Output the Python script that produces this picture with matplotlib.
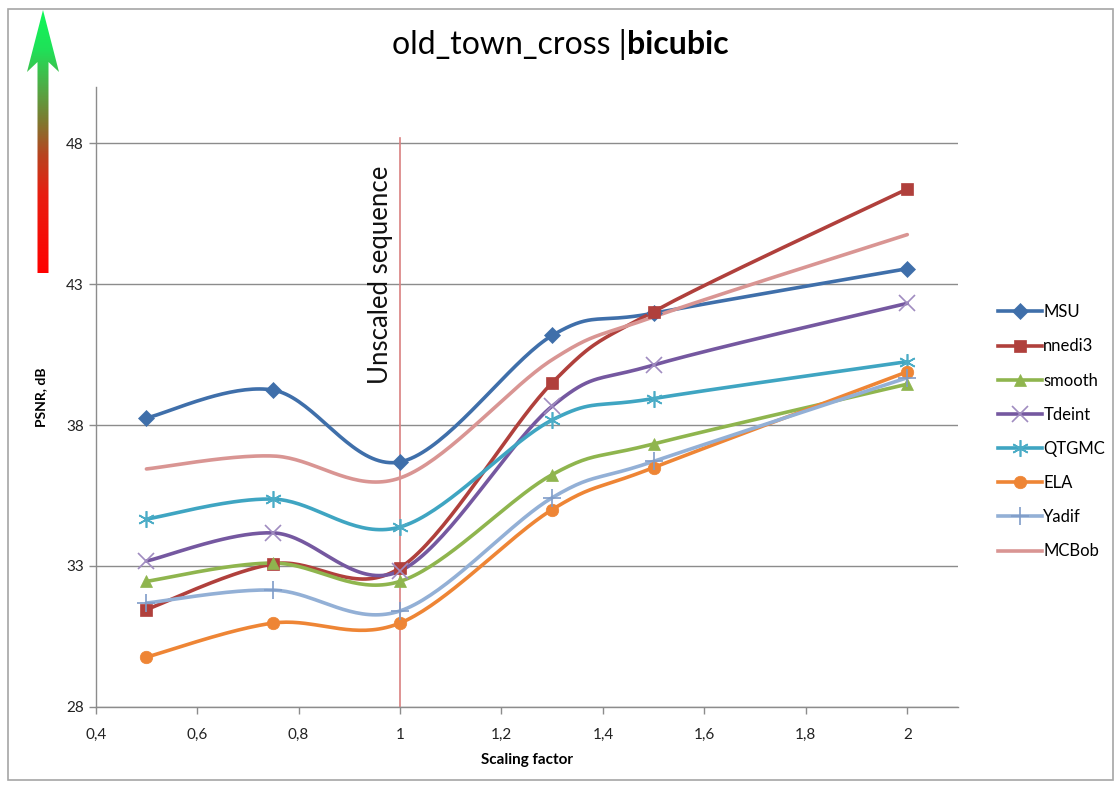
import numpy as np
import matplotlib
matplotlib.use("Agg")
import matplotlib.pyplot as plt
from matplotlib.colors import LinearSegmentedColormap
from matplotlib.patches import Polygon, Rectangle
from matplotlib.ticker import FuncFormatter

plt.rcParams['font.family'] = ['Lato', 'DejaVu Sans']

scale = [0.5, 0.75, 1.0, 1.3, 1.5, 2.0]
series_names = ['MSU', 'nnedi3', 'smooth', 'Tdeint', 'QTGMC', 'ELA', 'Yadif', 'MCBob']
msu = [38.25, 39.24, 36.69, 41.18, 41.97, 43.55]
nnedi3 = [31.45, 33.07, 32.93, 39.5, 42.03, 46.38]
smooth_v = [32.45, 33.1, 32.45, 36.24, 37.33, 39.45]
tdeint = [33.17, 34.17, 32.82, 38.67, 40.13, 42.32]
qtgmc = [34.66, 35.37, 34.38, 38.18, 38.94, 40.25]
ela = [29.76, 30.97, 30.97, 35.0, 36.49, 39.89]
yadif = [31.68, 32.14, 31.4, 35.42, 36.71, 39.68]
mcbob = [36.44, 36.9, 36.12, 40.32, 41.84, 44.76]

colors = ['#3F6FAA', '#B0403C', '#8FB54E', '#7558A0', '#3FA5C2', '#EE8535', '#93B0D6', '#D99593']
marker_colors = ['#3F6FAA', '#B0403C', '#8FB54E', '#A08CC0', '#4BACC6', '#EE8535', '#7F9CC8', '#D99593']
markers = ['D', 's', '^', 'x', (6, 2, 0), 'o', '+', None]
msizes = [8, 9, 9, 11, 12, 9, 13, 0]
values = [msu, nnedi3, smooth_v, tdeint, qtgmc, ela, yadif, mcbob]


def smooth_curve(xs, ys, n=40):
    # Excel-like smoothed line: cubic bezier through the points (catmull-rom style)
    p = np.column_stack([xs, ys]).astype(float)
    out = []
    for i in range(len(p) - 1):
        p0 = p[i - 1] if i > 0 else p[i]
        p1, p2 = p[i], p[i + 1]
        p3 = p[i + 2] if i + 2 < len(p) else p[i + 1]
        c1 = p1 + (p2 - p0) / 6
        c2 = p2 - (p3 - p1) / 6
        t = np.linspace(0, 1, n)[:, None]
        seg = (1 - t) ** 3 * p1 + 3 * (1 - t) ** 2 * t * c1 + 3 * (1 - t) * t ** 2 * c2 + t ** 3 * p2
        out.append(seg if i == 0 else seg[1:])
    out = np.vstack(out)
    return out[:, 0], out[:, 1]


W, H = 1116, 787
fig = plt.figure(figsize=(W / 100, H / 100), dpi=100)

# background layer in pixel coordinates (frame + gradient arrow)
bg = fig.add_axes([0, 0, 1, 1], zorder=-1)
bg.set_xlim(0, W)
bg.set_ylim(H, 0)
bg.axis('off')
bg.add_patch(Rectangle((8, 9), 1105, 771, fill=False, edgecolor='#A6A6A6', lw=1.2))
arrow_cmap = LinearSegmentedColormap.from_list('arr', [
    (0.0, '#FF0000'), (0.3, '#E81E10'), (0.45, '#B84420'), (0.58, '#7E7A30'),
    (0.72, '#4CB048'), (0.85, '#20E058'), (1.0, '#10F858')])
grad = np.linspace(1, 0, 256)[:, None]
img = bg.imshow(grad, cmap=arrow_cmap, extent=(26, 60, 274, 10), aspect='auto', zorder=1)
arrow_shape = Polygon([(43, 10), (59, 72), (48.5, 62), (48.5, 273), (37.5, 273),
                       (37.5, 62), (27, 72)], closed=True, transform=bg.transData,
                      facecolor='none', edgecolor='none')
bg.add_patch(arrow_shape)
img.set_clip_path(arrow_shape)

ax = fig.add_axes([95.7 / W, 1 - 706.7 / H, (958 - 95.7) / W, (706.7 - 87) / H])
ax.set_xlim(0.4, 2.1)
ax.set_ylim(28, 50)
ax.set_yticks([28, 33, 38, 43, 48])
ax.set_xticks([0.4, 0.6, 0.8, 1.0, 1.2, 1.4, 1.6, 1.8, 2.0])
ax.xaxis.set_major_formatter(FuncFormatter(lambda v, p: ('%g' % round(v, 1)).replace('.', ',')))
ax.grid(axis='y', color='#8C8C8C', lw=1)
ax.set_axisbelow(True)
for s in ['top', 'right']:
    ax.spines[s].set_visible(False)
for s in ['left', 'bottom']:
    ax.spines[s].set_color('#8C8C8C')
    ax.spines[s].set_linewidth(1)
ax.tick_params(colors='#8C8C8C', labelcolor='#222222', labelsize=11, length=5, width=1)
ax.tick_params(axis='x', pad=10)

# vertical marker for unscaled sequence
ax.plot([1.0, 1.0], [28, 48.2], color='#D98080', lw=1.2, zorder=1)
ax.text(0.962, 43.35, 'Unscaled sequence', rotation=90, ha='center', va='center',
        fontsize=18.5, color='#111111')

handles = []
for name, vals, c, mc, m, ms in zip(series_names, values, colors, marker_colors, markers, msizes):
    sx, sy = smooth_curve(scale, vals)
    ax.plot(sx, sy, color=c, lw=2.6, solid_capstyle='round', zorder=3)
    if m is not None:
        filled = m not in ('x', '+', (6, 2, 0))
        ax.plot(scale, vals, ls='none', marker=m, ms=ms, color=mc,
                markeredgewidth=1.2 if not filled else 0.5, zorder=4)
    h, = ax.plot([], [], color=c, lw=2.6, marker=m, ms=ms if m else 0, markerfacecolor=mc,
                 markeredgecolor=mc, markeredgewidth=1.2 if m in ('x', '+', (6, 2, 0)) else 0.5)
    handles.append(h)

fig.legend(handles, series_names, loc='upper left', bbox_to_anchor=(990 / W, 1 - 296 / H),
           frameon=False, fontsize=12, handlelength=2.6, handletextpad=0.1,
           labelspacing=1.09, borderpad=0)

ax.set_xlabel('Scaling factor', fontsize=11, fontweight='bold', labelpad=8)
ax.set_ylabel('PSNR, dB', fontsize=10, fontweight='bold', labelpad=14)

fig.text(627 / W, 1 - 45 / H, 'old_town_cross |', fontsize=23, ha='right', va='center')
fig.text(627 / W, 1 - 45 / H, 'bicubic', fontsize=23, fontweight='bold', ha='left', va='center')

fig.savefig('out.png', dpi=100)
